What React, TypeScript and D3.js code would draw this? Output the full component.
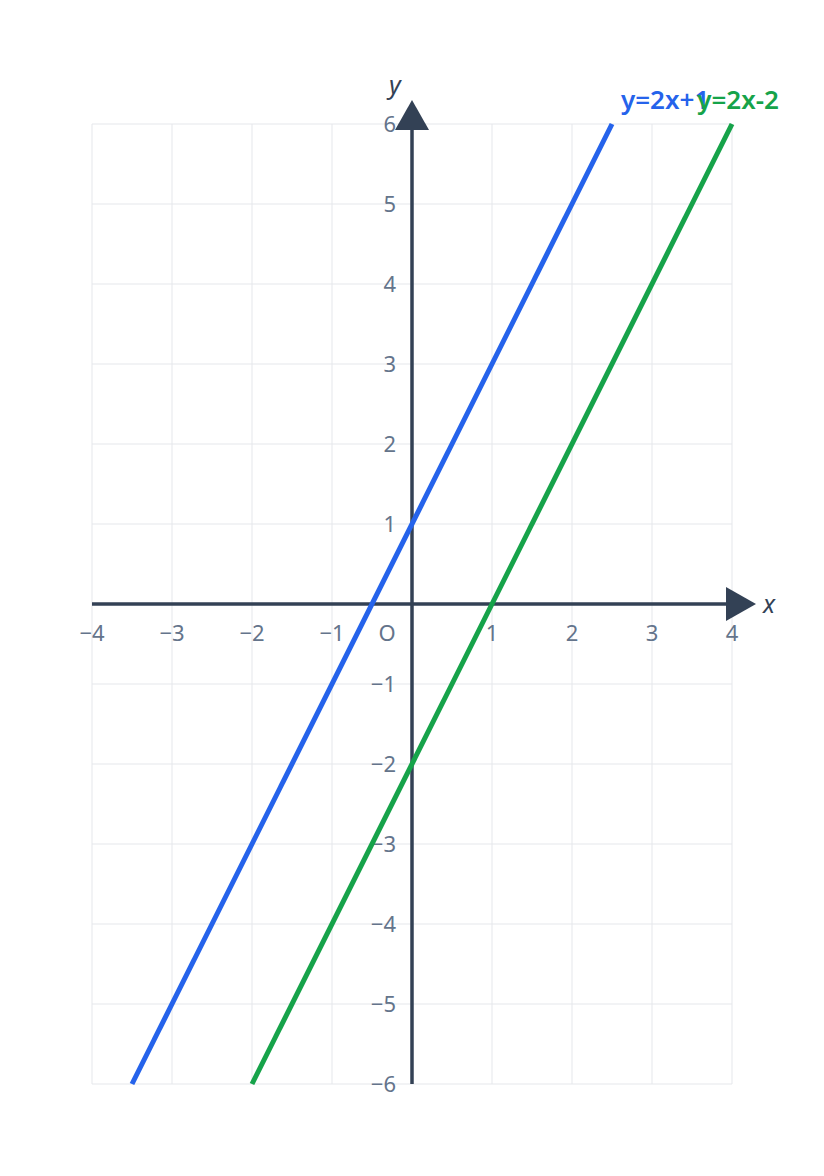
import * as d3 from "d3";

const WIDTH = 824;
const HEIGHT = 1176;

const xTicks = [-4, -3, -2, -1, 0, 1, 2, 3, 4];
const yTicks = [-6, -5, -4, -3, -2, -1, 0, 1, 2, 3, 4, 5, 6];

type Line = { name: string; slope: number; intercept: number; color: string };

const lines: Line[] = [
  { name: "y=2x+1", slope: 2, intercept: 1, color: "#2563eb" },
  { name: "y=2x-2", slope: 2, intercept: -2, color: "#16a34a" },
];

const AXIS = "#334155";
const GRID = "#e5e7eb";
const TICK = "#64748b";
const FONT = "'Noto Sans', 'Open Sans', sans-serif";

export default function App() {
  const xScale = d3.scaleLinear().domain([-4, 4]).range([92, 732]);
  const yScale = d3.scaleLinear().domain([-6, 6]).range([1084, 124]);
  const x0 = xScale(0);
  const y0 = yScale(0);

  const [xMin, xMax] = xScale.domain();
  const [yMin, yMax] = yScale.domain();

  const lineGen = d3
    .line<[number, number]>()
    .x((d) => xScale(d[0]))
    .y((d) => yScale(d[1]));

  // clip each line to the visible y range
  const segments = lines.map((l) => {
    const xa = Math.max(xMin, (yMin - l.intercept) / l.slope);
    const xb = Math.min(xMax, (yMax - l.intercept) / l.slope);
    const pts: [number, number][] = [
      [xa, l.slope * xa + l.intercept],
      [xb, l.slope * xb + l.intercept],
    ];
    return { ...l, pts };
  });

  return (
    <svg width={WIDTH} height={HEIGHT} style={{ display: "block", margin: -8 }}>
      <rect width={WIDTH} height={HEIGHT} fill="#fff" />
      {/* grid */}
      <g stroke={GRID} strokeWidth={1}>
        {xTicks.map((t) => (
          <line key={"gx" + t} x1={xScale(t)} x2={xScale(t)} y1={yScale(yMax)} y2={yScale(yMin)} />
        ))}
        {yTicks.map((t) => (
          <line key={"gy" + t} x1={xScale(xMin)} x2={xScale(xMax)} y1={yScale(t)} y2={yScale(t)} />
        ))}
      </g>

      {/* tick labels */}
      <g fontFamily={FONT} fontSize={22} fill={TICK}>
        {xTicks.map((t) => (
          <text
            key={"tx" + t}
            x={t === 0 ? x0 - 25 : xScale(t)}
            y={y0 + 37}
            textAnchor="middle"
          >
            {t === 0 ? "O" : t < 0 ? "\u2212" + Math.abs(t) : t}
          </text>
        ))}
        {yTicks
          .filter((t) => t !== 0)
          .map((t) => (
            <text key={"ty" + t} x={x0 - 16} y={yScale(t)} dy="0.35em" textAnchor="end">
              {t < 0 ? "\u2212" + Math.abs(t) : t}
            </text>
          ))}
      </g>

      {/* axes */}
      <g stroke={AXIS} strokeWidth={3.5}>
        <line x1={xScale(xMin)} x2={xScale(xMax) - 4} y1={y0} y2={y0} />
        <line x1={x0} x2={x0} y1={yScale(yMin)} y2={yScale(yMax) + 4} />
      </g>
      <path
        d={`M${xScale(xMax) - 6},${y0 - 17} L${xScale(xMax) + 24},${y0} L${xScale(xMax) - 6},${y0 + 17} Z`}
        fill={AXIS}
      />
      <path
        d={`M${x0 - 17},${yScale(yMax) + 6} L${x0},${yScale(yMax) - 24} L${x0 + 17},${yScale(yMax) + 6} Z`}
        fill={AXIS}
      />
      <text
        x={xScale(xMax) + 31}
        y={y0}
        dy="0.35em"
        fontFamily={FONT}
        fontSize={25}
        fontStyle="italic"
        fill={AXIS}
      >
        x
      </text>
      <text
        x={x0 - 23}
        y={yScale(yMax) - 30}
        fontFamily={FONT}
        fontSize={25}
        fontStyle="italic"
        fill={AXIS}
      >
        y
      </text>

      {/* lines */}
      {segments.map((s) => (
        <path
          key={s.name}
          d={lineGen(s.pts) || undefined}
          stroke={s.color}
          strokeWidth={5}
          fill="none"
        />
      ))}

      {/* line labels */}
      <g fontFamily={FONT} fontSize={26} fontWeight={600}>
        {segments.map((s, i) => {
          const end = s.pts[1];
          const px = xScale(end[0]);
          return i === 0 ? (
            <text key={"l" + s.name} x={px + 9} y={yScale(end[1]) - 15} fill={s.color}>
              {s.name}
            </text>
          ) : (
            <text
              key={"l" + s.name}
              x={px + 47}
              y={yScale(end[1]) - 15}
              textAnchor="end"
              fill={s.color}
            >
              {s.name}
            </text>
          );
        })}
      </g>
    </svg>
  );
}
